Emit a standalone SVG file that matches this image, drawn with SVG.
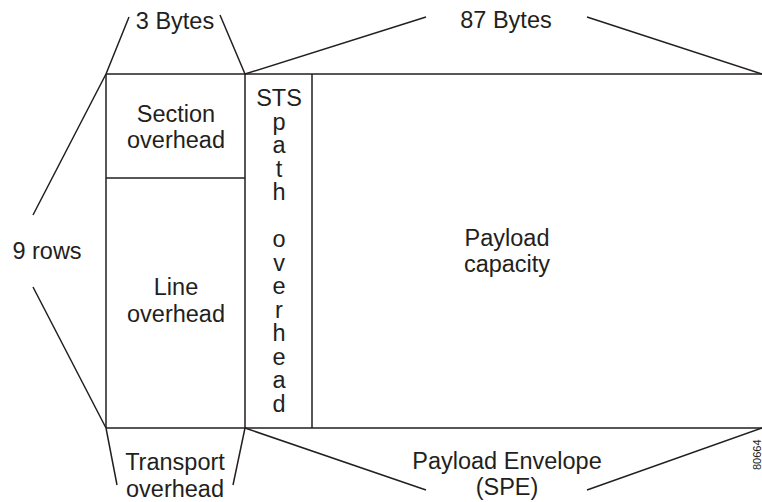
<svg xmlns="http://www.w3.org/2000/svg" width="762" height="502" viewBox="0 0 762 502">
<style>
text{font-family:"Liberation Sans",Arial,sans-serif;font-size:23.5px;fill:#231f20;text-anchor:middle}
.ln{stroke:#231f20;stroke-width:1.5;fill:none}
.sm{font-size:11px;text-anchor:start}
</style>
<rect width="762" height="502" fill="#fff"/>
<g id="frame" class="ln">
<path d="M106,74 H762 M106,428 H762 M106,74 V428 M245,74 V428 M312,74 V428 M106,178 H245"/>
</g>
<g id="section-overhead"><text x="176" y="122">Section</text><text x="176" y="148">overhead</text></g>
<g id="line-overhead"><text x="176" y="295">Line</text><text x="176" y="322">overhead</text></g>
<g id="sts-path-overhead">
<text x="279" y="106">STS</text>
<text x="279" y="129.5">p</text>
<text x="279" y="153">a</text>
<text x="279" y="176.5">t</text>
<text x="279" y="200">h</text>
<text x="279" y="247">o</text>
<text x="279" y="270.5">v</text>
<text x="279" y="294">e</text>
<text x="279" y="317.5">r</text>
<text x="279" y="341">h</text>
<text x="279" y="364.5">e</text>
<text x="279" y="388">a</text>
<text x="279" y="411.5">d</text>
</g>
<g id="payload-capacity"><text x="507" y="246">Payload</text><text x="507" y="272">capacity</text></g>
<g id="connectors" class="ln">
<path d="M106,74 L129,17 M220,15 L245,74"/>
<path d="M245,74 L426,17 M587,17 L762,74"/>
<path d="M106,74 L33,215 M33,287 L106,428"/>
<path d="M106,428 L117,485 M245,428 L233,485"/>
<path d="M245,428 L426,490 M587,490 L762,428"/>
</g>
<g id="labels">
<text x="175" y="29">3 Bytes</text>
<text x="506" y="28">87 Bytes</text>
<text x="47" y="259">9 rows</text>
<text x="175" y="470">Transport</text>
<text x="175" y="497">overhead</text>
<text x="507" y="469">Payload Envelope</text>
<text x="507" y="495">(SPE)</text>
<text class="sm" transform="translate(761,470) rotate(-90)">80664</text>
</g>
</svg>
